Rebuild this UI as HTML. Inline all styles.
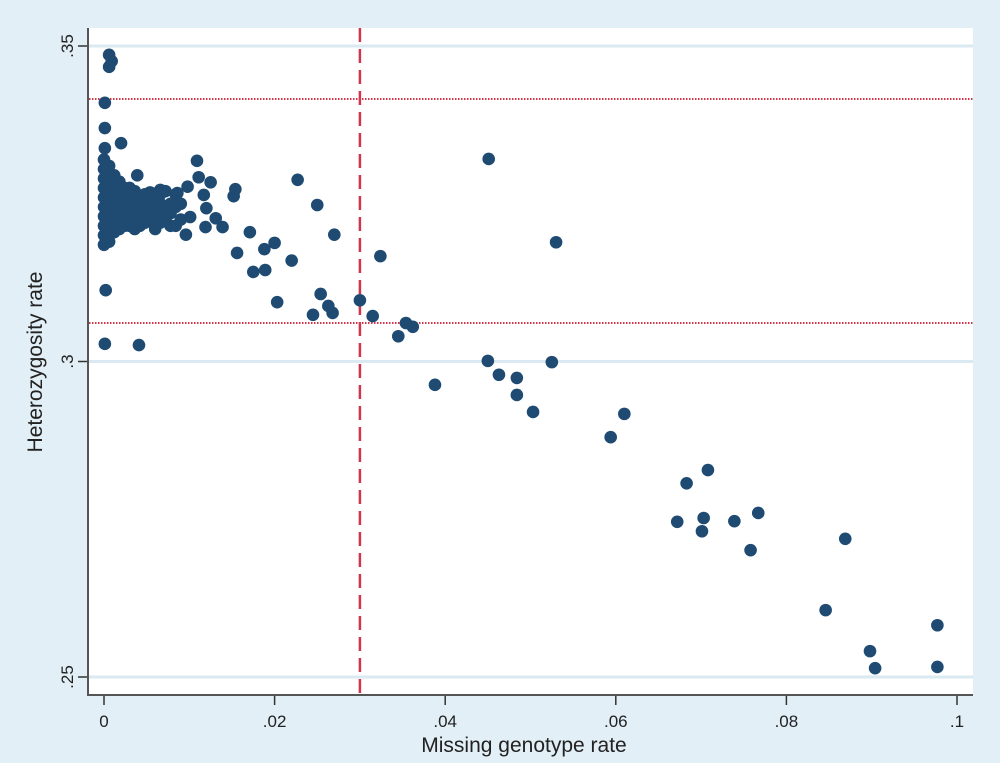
<!DOCTYPE html>
<html><head><meta charset="utf-8"><style>
html,body{margin:0;padding:0;background:#e2eff6;}
svg{display:block;font-family:"Liberation Sans",sans-serif;}
</style></head><body>
<svg id="chart" width="1000" height="763" xmlns="http://www.w3.org/2000/svg">
<rect width="1000" height="763" fill="#e2eff6"/>
<rect x="88" y="28" width="885" height="667" fill="#ffffff"/>
<g id="grid"></g>
<g id="refs"></g>
<g id="points"></g>
<g id="axes"></g>
<text x="524" y="752" font-size="21" text-anchor="middle" fill="#222">Missing genotype rate</text>
<text transform="translate(42,362) rotate(-90)" font-size="21" text-anchor="middle" fill="#222">Heterozygosity rate</text>
</svg>
<script>
const xTicks = [0, 0.02, 0.04, 0.06, 0.08, 0.1];
const xTickLabels = ["0", ".02", ".04", ".06", ".08", ".1"];
const yTicks = [0.25, 0.3, 0.35];
const yTickLabels = [".25", ".3", ".35"];
const hRefs = [0.3416, 0.3061];
const vRef = [0.03];
const clusterX = [0,0,0,0,0,0,0,0,0,0,.0006,.0006,.0006,.0006,.0006,.0006,.0006,.0006,.0006,.0012,.0012,.0012,.0012,.0012,.0012,.0012,.0018,.0018,.0018,.0018,.0018,.0018,.0024,.0024,.0024,.0024,.0024,.003,.003,.003,.003,.003,.0036,.0036,.0036,.0036,.0036,.0042,.0042,.0042,.0042,.0048,.0048,.0048,.0048,.0054,.0054,.0054,.006,.006,.006,.006,.0066,.0066,.0066,.0066,.0072,.0072,.0072,.0078,.0078,.0078,.0084,.0084,.0084,.009,.009,.0039,.0054,.0066];
const clusterY = [.3185,.320,.3215,.323,.3245,.326,.3275,.329,.3305,.332,.319,.3205,.322,.3235,.325,.3265,.328,.3295,.331,.3205,.322,.3235,.325,.3265,.328,.3295,.321,.3225,.324,.3255,.327,.3285,.3215,.323,.3245,.326,.3275,.3215,.323,.3245,.326,.3275,.321,.3225,.324,.3255,.327,.3215,.323,.3245,.326,.322,.3235,.325,.3265,.3225,.324,.3255,.321,.3225,.324,.3255,.322,.3235,.325,.3265,.3225,.324,.327,.3215,.3235,.325,.3215,.3245,.3265,.3225,.325,.3295,.3268,.3272];
const otherX = [.0006,.0009,.0006,.0001,.0001,.0001,.002,.0002,.0001,.0041,.0451,.053,.0324,.030,.0315,.0345,.0354,.0362,.0388,.045,.0463,.0484,.0484,.0503,.0525,.0594,.061,.0683,.0708,.0672,.0701,.0703,.0739,.0758,.0767,.0869,.0846,.0898,.0904,.0977,.0977,.0227,.025,.027,.0171,.0156,.0188,.02,.022,.0175,.0189,.0203,.0254,.0263,.0245,.0268,.0154,.0152,.0109,.0111,.0125,.0117,.012,.0131,.0119,.0139,.0101,.0098,.0086,.0096];
const otherY = [.3486,.3476,.3467,.341,.337,.3338,.3346,.3113,.3028,.3026,.3321,.3189,.3167,.3097,.3072,.304,.3061,.3055,.2963,.3001,.2979,.2974,.2947,.292,.2999,.288,.2917,.2807,.2828,.2746,.2731,.2752,.2747,.2701,.276,.2719,.2606,.2541,.2514,.2582,.2516,.3288,.3248,.3201,.3205,.3172,.3178,.3188,.316,.3142,.3145,.3094,.3107,.3088,.3074,.3077,.3273,.3262,.3318,.3292,.3284,.3264,.3243,.3227,.3213,.3213,.3229,.3277,.3267,.3201];

const NS = "http://www.w3.org/2000/svg";
const X = v => 104 + v * 8530;
const Y = v => 46 + (0.35 - v) * 6310;
function mk(tag, attrs, parent){const e=document.createElementNS(NS,tag);for(const k in attrs)e.setAttribute(k,attrs[k]);parent.appendChild(e);return e;}
const grid=document.getElementById('grid'),refs=document.getElementById('refs'),pts=document.getElementById('points'),axes=document.getElementById('axes');

yTicks.forEach((t,i)=>{
  const g=mk('line',{x1:89,x2:973,y1:Y(t),y2:Y(t),stroke:'#dbeaf2','stroke-width':3},grid);
  
  
  const tk=mk('line',{x1:78,x2:88,y1:Y(t),y2:Y(t),stroke:'#333','stroke-width':1.5},axes);
  
  
  const tx=mk('text',{transform:`translate(73,${Y(t)}) rotate(-90)`,'font-size':17,'text-anchor':'middle',fill:'#222'},axes);
  tx.textContent=yTickLabels[i];
  
  
});
xTicks.forEach((t,i)=>{
  const tk=mk('line',{x1:X(t),x2:X(t),y1:695,y2:705,stroke:'#333','stroke-width':1.5},axes);
  
  
  const tx=mk('text',{x:X(t),y:727,'font-size':17,'text-anchor':'middle',fill:'#222'},axes);
  tx.textContent=xTickLabels[i];
  
  
});
hRefs.forEach(v=>{
  const l=mk('line',{x1:89,x2:973,y1:Y(v),y2:Y(v),stroke:'#d2344a','stroke-width':2,'stroke-dasharray':'1.5 1.5'},refs);
  
  
});
vRef.forEach(v=>{
  const l=mk('line',{x1:X(v),x2:X(v),y1:28,y2:695,stroke:'#d2344a','stroke-width':2.5,'stroke-dasharray':'14 7'},refs);
  
  
});
function dot(x,y){
  const c=mk('circle',{cx:X(x),cy:Y(y),r:6.3,fill:'#1f4b73'},pts);
  
  
}
clusterX.forEach((x,i)=>dot(x,clusterY[i]));
otherX.forEach((x,i)=>dot(x,otherY[i]));
const ya=mk('line',{x1:88,x2:88,y1:28,y2:696,stroke:'#555','stroke-width':2},axes);


const xa=mk('line',{x1:87,x2:973,y1:695,y2:695,stroke:'#555','stroke-width':2},axes);


</script>
</body></html>
